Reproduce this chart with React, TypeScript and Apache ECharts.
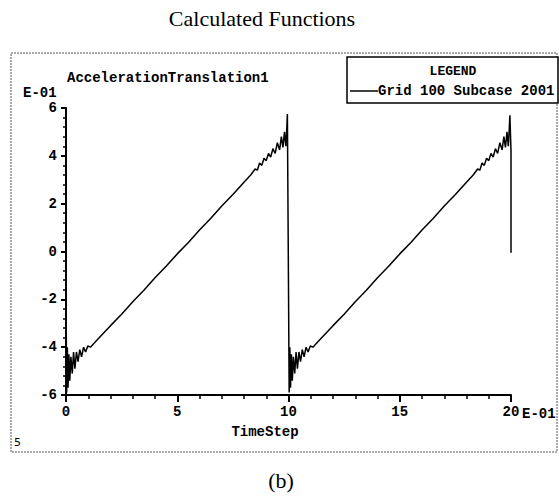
import React, { useEffect, useRef } from "react";
import * as echarts from "echarts";

// Time step (units of E-01) and acceleration (units of E-01)
const timeStep = [
  0.0, 0.03, 0.06, 0.09, 0.13, 0.17, 0.22, 0.28, 0.34, 0.4, 0.47, 0.54, 0.62, 0.7, 0.79, 0.88, 0.98, 1.1, 1.25,
  1.5, 2.0, 2.5, 3.0, 3.5, 4.0, 4.5, 5.0, 5.5, 6.0, 6.5, 7.0, 7.5, 8.0, 8.3,
  8.5, 8.6, 8.7, 8.8, 8.9, 9.0, 9.1, 9.2, 9.3, 9.4, 9.5, 9.6, 9.68, 9.75, 9.82, 9.88, 9.92, 9.95,
  10.03, 10.06, 10.09, 10.13, 10.17, 10.22, 10.28, 10.34, 10.4, 10.47, 10.54, 10.62, 10.7, 10.79, 10.88, 10.98, 11.1, 11.25,
  11.5, 12.0, 12.5, 13.0, 13.5, 14.0, 14.5, 15.0, 15.5, 16.0, 16.5, 17.0, 17.5, 18.0, 18.3,
  18.5, 18.6, 18.7, 18.8, 18.9, 19.0, 19.1, 19.2, 19.3, 19.4, 19.5, 19.6, 19.68, 19.75, 19.82, 19.88, 19.92, 19.95,
  20.0, 20.0,
];
const acceleration = [
  -1.5, -5.9, -4.0, -5.7, -4.3, -5.4, -4.4, -5.1, -4.2, -4.9, -4.2, -4.6, -4.1, -4.4, -4.0, -4.2, -3.95, -4.0, -3.85,
  -3.6, -3.1, -2.62, -2.1, -1.62, -1.1, -0.62, -0.1, 0.38, 0.9, 1.38, 1.9, 2.38, 2.9, 3.2,
  3.45, 3.4, 3.7, 3.6, 3.9, 3.8, 4.1, 3.95, 4.3, 4.1, 4.55, 4.25, 4.8, 4.35, 5.0, 4.4, 5.1, 5.75,
  -5.9, -4.0, -5.7, -4.3, -5.4, -4.4, -5.1, -4.2, -4.9, -4.2, -4.6, -4.1, -4.4, -4.0, -4.2, -3.95, -4.0, -3.85,
  -3.6, -3.1, -2.62, -2.1, -1.62, -1.1, -0.62, -0.1, 0.38, 0.9, 1.38, 1.9, 2.38, 2.9, 3.2,
  3.45, 3.4, 3.7, 3.6, 3.9, 3.8, 4.1, 3.95, 4.3, 4.1, 4.55, 4.25, 4.8, 4.35, 5.0, 4.4, 5.1, 5.7,
  4.2, -0.05,
];

const chartTitle = "Calculated Functions";
const plotTitle = "AccelerationTranslation1";
const legendTitle = "LEGEND";
const seriesName = "Grid 100 Subcase 2001";
const xName = "TimeStep";
const scaleLabel = "E-01";
const cornerLabel = "5";
const panelLabel = "(b)";

const MONO = "bold 14px 'Liberation Mono', 'Courier New', monospace";

export default function App() {
  const ref = useRef<HTMLDivElement>(null);

  useEffect(() => {
    if (!ref.current) return;
    const chart = echarts.init(ref.current, null, { renderer: "svg" });
    const data = timeStep.map((t, i) => [t, acceleration[i]]);

    const txt = (text: string, x: number, y: number, font: string, align = "left") => ({
      type: "text",
      x,
      y,
      silent: true,
      style: {
        text,
        font,
        fill: "#000",
        align,
        verticalAlign: "middle",
        textAlign: align,
        textVerticalAlign: "middle",
      },
    });

    chart.setOption({
      animation: false,
      backgroundColor: "#fff",
      grid: { left: 66, right: 48, top: 108, bottom: 102, containLabel: false },
      xAxis: {
        type: "value",
        min: 0,
        max: 20,
        interval: 5,
        axisLine: { show: true, onZero: false, lineStyle: { color: "#000", width: 2 } },
        axisTick: { show: true, inside: false, length: 7, lineStyle: { color: "#000", width: 2 } },
        minorTick: { show: true, splitNumber: 5, length: 4, lineStyle: { color: "#000", width: 1.5 } },
        splitLine: { show: false },
        axisLabel: {
          color: "#000",
          fontFamily: "'Liberation Mono', 'Courier New', monospace",
          fontWeight: "bold",
          fontSize: 14,
          margin: 10,
        },
      },
      yAxis: {
        type: "value",
        min: -6,
        max: 6,
        interval: 2,
        axisLine: { show: true, onZero: false, lineStyle: { color: "#000", width: 2 } },
        axisTick: { show: true, inside: false, length: 5, lineStyle: { color: "#000", width: 2 } },
        minorTick: { show: true, splitNumber: 5, length: 3, lineStyle: { color: "#000", width: 1.5 } },
        splitLine: { show: false },
        axisLabel: {
          color: "#000",
          fontFamily: "'Liberation Mono', 'Courier New', monospace",
          fontWeight: "bold",
          fontSize: 14,
          margin: 9,
        },
      },
      series: [
        {
          name: seriesName,
          type: "line",
          data,
          showSymbol: false,
          symbol: "none",
          lineStyle: { color: "#000", width: 1.5 },
          z: 1,
        },
      ],
      graphic: [
        txt(chartTitle, 262, 18, "22px 'Liberation Serif', 'Times New Roman', serif", "center"),
        {
          type: "rect",
          shape: { x: 11, y: 53, width: 546, height: 399 },
          silent: true,
          style: { fill: "none", stroke: "#555", lineWidth: 1, lineDash: [2, 1] },
        },
        {
          type: "rect",
          shape: { x: 347, y: 57, width: 211, height: 46 },
          silent: true,
          style: { fill: "#fff", stroke: "#000", lineWidth: 1.5 },
        },
        txt(legendTitle, 453, 71, "bold 13px 'Liberation Mono', 'Courier New', monospace", "center"),
        {
          type: "line",
          shape: { x1: 350, y1: 91, x2: 378, y2: 91 },
          silent: true,
          style: { stroke: "#000", lineWidth: 1.5 },
        },
        txt(seriesName, 378, 91, MONO),
        txt(plotTitle, 67, 78, MONO),
        txt(scaleLabel, 23, 93, MONO),
        txt(scaleLabel, 522, 414, MONO),
        txt(xName, 265, 432, MONO, "center"),
        txt(cornerLabel, 14, 442, "11px 'DejaVu Sans', sans-serif"),
        txt(panelLabel, 281, 480, "22px 'Liberation Serif', 'Times New Roman', serif", "center"),
      ],
    });

    return () => chart.dispose();
  }, []);

  return (
    <div
      ref={ref}
      style={{ position: "absolute", left: 0, top: 0, width: 559, height: 497, background: "#fff" }}
    />
  );
}
